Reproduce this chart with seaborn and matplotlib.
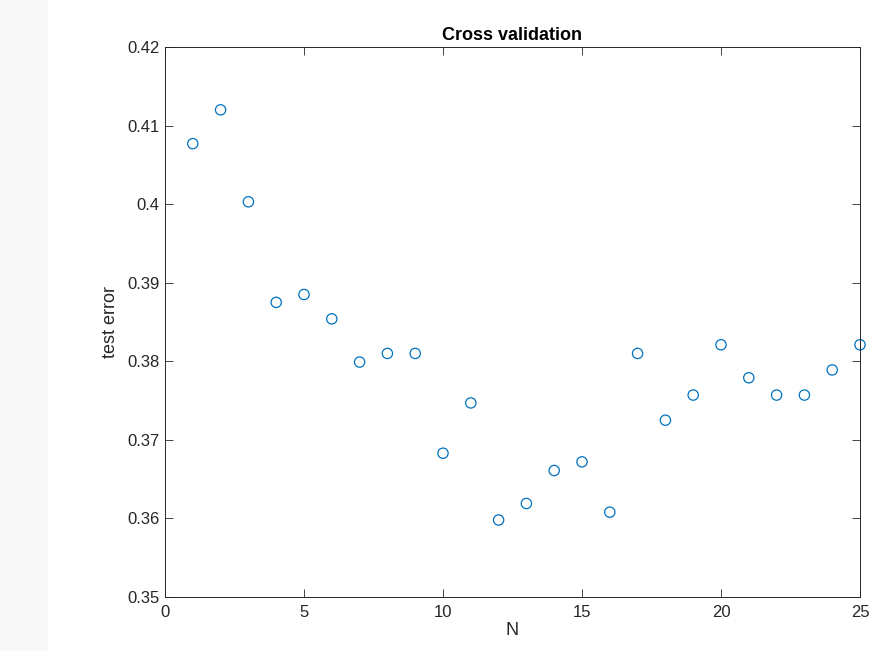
import matplotlib
matplotlib.use('Agg')
import matplotlib.pyplot as plt
import matplotlib.patches as mpatches
import seaborn as sns
import pandas as pd

n_vals = list(range(1, 26))
test_error = [0.4077, 0.4120, 0.4003, 0.3875, 0.3885, 0.3854, 0.3799, 0.3810, 0.3810,
              0.3683, 0.3747, 0.3598, 0.3619, 0.3661, 0.3672, 0.3608, 0.3810, 0.3725,
              0.3757, 0.3821, 0.3779, 0.3757, 0.3757, 0.3789, 0.3821]

df = pd.DataFrame({'N': n_vals, 'test error': test_error})

sns.set_style('white')
plt.rcParams['font.family'] = ['Liberation Sans', 'DejaVu Sans']

fig = plt.figure(figsize=(8.7, 6.51), dpi=100)
# light grey strip on the left edge
fig.patches.append(mpatches.Rectangle((0, 0), 48 / 870, 1, transform=fig.transFigure,
                                      facecolor='#f8f8f8', edgecolor='none', zorder=0))
ax = fig.add_axes([165 / 870, 54 / 651, 695 / 870, 550 / 651])

sns.scatterplot(data=df, x='N', y='test error', ax=ax, marker='o', s=55,
                facecolor='none', edgecolor='#0072BD', linewidth=0.9)
for coll in ax.collections:
    coll.set_clip_on(False)

ax.set_xlim(0, 25)
ax.set_ylim(0.35, 0.42)
ax.set_xticks([0, 5, 10, 15, 20, 25])
ax.set_yticks([0.35, 0.36, 0.37, 0.38, 0.39, 0.40, 0.41, 0.42])
ax.set_yticklabels(['0.35', '0.36', '0.37', '0.38', '0.39', '0.4', '0.41', '0.42'])
ax.tick_params(direction='in', length=6, width=0.6, colors='#262626', labelsize=12,
               top=True, right=True, bottom=True, left=True, pad=4)
ax.tick_params(axis='x', pad=6)
for sp in ax.spines.values():
    sp.set_color('#262626')
    sp.set_linewidth(0.7)
ax.set_xlabel('N', fontsize=13, color='#262626', labelpad=1)
ax.set_ylabel('test error', fontsize=13, color='#262626', labelpad=6)
ax.set_title('Cross validation', fontsize=13, fontweight='bold', pad=5, color='black')

fig.savefig('out.png', dpi=100)
